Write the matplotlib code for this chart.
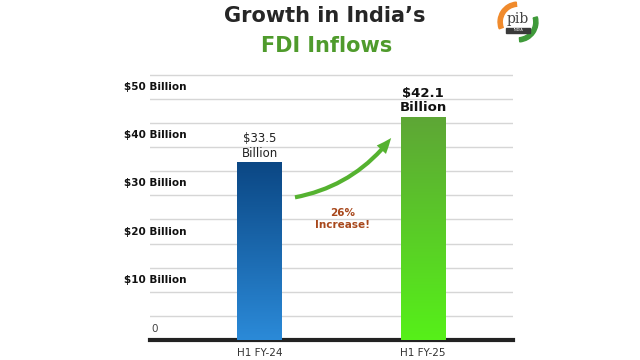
import matplotlib.pyplot as plt
import matplotlib.transforms as mtransforms
from matplotlib.patches import FancyArrowPatch, Rectangle, Wedge
from matplotlib.colors import LinearSegmentedColormap
import numpy as np

# data
categories = ["H1 FY-24", "H1 FY-25"]
fdi_values = [33.5, 42.1]  # USD billion
value_labels = ["$33.5\nBillion", "$42.1\nBillion"]
ytick_values = [0, 10, 20, 30, 40, 50]
ytick_labels = ["0", "$10 Billion", "$20 Billion", "$30 Billion", "$40 Billion", "$50 Billion"]

plt.rcParams["font.family"] = ["DejaVu Sans"]

fig = plt.figure(figsize=(6.4, 3.6), dpi=100)
fig.patch.set_facecolor("white")

# grid / label axis and bar axis (twin, own scale)
ax = fig.add_axes([150 / 640, 1 - 340 / 360, 363 / 640, 270 / 360])
ax2 = ax.twinx()
ax.set_ylim(0, 56)
ax2.set_ylim(0, 50.9)
ax.set_xlim(-0.67, 1.55)

for y in np.arange(5, 56, 5):
    ax.axhline(y, color="#d6d6d6", lw=1, zorder=0)

for a in (ax, ax2):
    for s in ["top", "right", "left"]:
        a.spines[s].set_visible(False)
    a.set_yticks([])
ax2.spines["bottom"].set_visible(False)
ax.spines["bottom"].set_color("#222222")
ax.spines["bottom"].set_linewidth(3)

# y labels, placed between gridlines
trans = mtransforms.blended_transform_factory(ax.transAxes, ax.transData)
for v, lab in zip(ytick_values, ytick_labels):
    if v == 0:
        ax.text(0.005, v + 2.2, lab, transform=trans, ha="left", va="center",
                fontsize=7.5, color="#444444")
    else:
        ax.text(-0.072, v + 2.5, lab, transform=trans, ha="left", va="center",
                fontsize=7.5, fontweight="bold", color="#111111")

# bars with gradients
bar_w = 0.275
cmaps = [
    LinearSegmentedColormap.from_list("blue", ["#2b8ad8", "#0b4784"]),
    LinearSegmentedColormap.from_list("green", ["#56f019", "#5ea636"]),
]
grad = np.linspace(0, 1, 256).reshape(-1, 1)
bars = ax2.bar(range(len(categories)), fdi_values, width=bar_w, color="none", zorder=3)
for b, cm in zip(bars, cmaps):
    x0, w, h = b.get_x(), b.get_width(), b.get_height()
    im = ax2.imshow(grad, extent=[x0, x0 + w, 0, h], origin="lower", cmap=cm,
                    aspect="auto", zorder=3)
    im.set_clip_path(b)
ax2.set_xlim(-0.67, 1.55)
ax2.set_ylim(0, 50.9)

# value labels
ax2.text(0, fdi_values[0] + 0.5, value_labels[0], ha="center", va="bottom",
         fontsize=8.5, color="#222222", linespacing=1.2)
ax2.text(1, fdi_values[1] + 0.5, value_labels[1], ha="center", va="bottom",
         fontsize=9.5, fontweight="bold", color="#111111", linespacing=1.15)

# x labels
ax.set_xticks(range(len(categories)))
ax.set_xticklabels(categories, fontsize=7.5, color="#333333")
ax.tick_params(axis="x", length=0, pad=6)

# growth arrow
pct = (fdi_values[1] - fdi_values[0]) / fdi_values[0] * 100
arrow = FancyArrowPatch((0.2, 26.8), (0.815, 38.5),
                        connectionstyle="arc3,rad=0.2",
                        arrowstyle="simple,head_width=9,head_length=11,tail_width=3",
                        color="#55b230", lw=0, zorder=4)
ax2.add_patch(arrow)
ax2.text(0.505, 22.8, f"{pct:.0f}%\nIncrease!", ha="center", va="center",
         fontsize=7.5, fontweight="bold", color="#a8481c", linespacing=1.3)

# title
fig.text(325 / 640, 1 - 16 / 360, "Growth in India\u2019s", ha="center", va="center",
         fontsize=15, fontweight="bold", color="#262626")
fig.text(327 / 640, 1 - 46 / 360, "FDI Inflows", ha="center", va="center",
         fontsize=15, fontweight="bold", color="#4f9b2c")

# pib logo
lax = fig.add_axes([497 / 640, 1 - 43 / 360, 42 / 640, 42 / 360])
lax.set_xlim(-1, 1)
lax.set_ylim(-1, 1)
lax.set_aspect("equal")
lax.axis("off")
lax.add_patch(Wedge((0, 0), 0.95, 95, 200, width=0.2, color="#f08a2c"))
lax.add_patch(Wedge((0, 0), 0.95, 275, 15, width=0.2, color="#3f9a3a"))
lax.text(0, 0.15, "pib", ha="center", va="center", fontsize=10, color="#444444",
         family="DejaVu Serif")
lax.add_patch(Rectangle((-0.55, -0.5), 1.1, 0.22, color="#3a3a3a"))
lax.text(0, -0.39, "INDIA", ha="center", va="center", fontsize=2.5, color="white")

fig.savefig("out.png", dpi=100)
